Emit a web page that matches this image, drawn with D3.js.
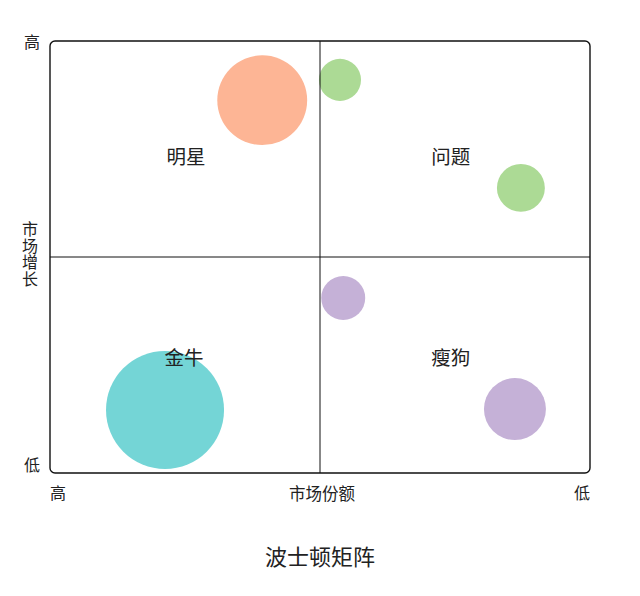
<!DOCTYPE html>
<html>
<head>
<meta charset="utf-8">
<script src="https://cdn.jsdelivr.net/npm/d3@7"></script>
<style>
  body { margin: 0; background: #fff; }
  svg text { font-family: "Noto Sans CJK SC", "Noto Sans", sans-serif; fill: #222; }
</style>
</head>
<body>
<div id="chart"></div>
<script>
// bubbles: market share (0 = high, 100 = low), market growth (0..100), size
var names = ["明星", "问题A", "问题B", "瘦狗A", "瘦狗B", "金牛"];
var share = [39.3, 53.7, 87.2, 54.3, 86.1, 21.3];
var growth = [86.3, 91.0, 66.0, 40.5, 14.8, 14.6];
var sizes = [58, 12.7, 16.5, 13.9, 27.6, 100];
var colors = ["#fdb595", "#acda95", "#acda95", "#c5b1d7", "#c5b1d7", "#74d5d6"];

var quadNames = ["明星", "问题", "金牛", "瘦狗"];
var quadShare = [25.2, 74.2, 24.8, 74.2];
var quadGrowth = [73.6, 73.6, 27.0, 27.0];

var yTicks = ["低", "高"];
var xTicks = ["高", "低"];
var xTitle = "市场份额";
var yTitle = "市场增长";
var title = "波士顿矩阵";

var W = 640, H = 596;
var margin = {top: 41, right: 50, bottom: 123, left: 50};

var svg = d3.select("#chart").append("svg")
  .attr("width", W)
  .attr("height", H);

var x = d3.scaleLinear().domain([0, 100]).range([margin.left, W - margin.right]);
var y = d3.scaleLinear().domain([0, 100]).range([H - margin.bottom, margin.top]);
var r = d3.scaleSqrt().domain([0, 100]).range([0, 59]);

//bubbles
svg.selectAll("circle.bubble")
  .data(d3.range(names.length))
  .enter().append("circle")
  .attr("class", "bubble")
  .attr("cx", function(i) { return x(share[i]); })
  .attr("cy", function(i) { return y(growth[i]); })
  .attr("r", function(i) { return r(sizes[i]); })
  .style("fill", function(i) { return colors[i]; });

//frame
svg.append("rect")
  .attr("x", x(0))
  .attr("y", y(100))
  .attr("width", x(100) - x(0))
  .attr("height", y(0) - y(100))
  .attr("rx", 5)
  .style("fill", "none")
  .style("stroke", "#111")
  .style("stroke-width", 1.4);

//quadrant dividers
svg.append("line")
  .attr("x1", x(50)).attr("x2", x(50))
  .attr("y1", y(100)).attr("y2", y(0))
  .style("stroke", "#111").style("stroke-width", 1);
svg.append("line")
  .attr("x1", x(0)).attr("x2", x(100))
  .attr("y1", y(50)).attr("y2", y(50))
  .style("stroke", "#111").style("stroke-width", 1);

//quadrant labels
svg.selectAll("text.quad")
  .data(d3.range(quadNames.length))
  .enter().append("text")
  .attr("class", "quad")
  .attr("x", function(i) { return x(quadShare[i]); })
  .attr("y", function(i) { return y(quadGrowth[i]); })
  .attr("text-anchor", "middle")
  .attr("dominant-baseline", "central")
  .style("font-size", "19.5px")
  .text(function(i) { return quadNames[i]; });

//y axis: 低 at bottom, 高 at top
svg.selectAll("text.ytick")
  .data(yTicks)
  .enter().append("text")
  .attr("class", "ytick")
  .attr("x", 32)
  .attr("y", function(d, i) { return i === 0 ? y(0) - 9 : y(100) + 0; })
  .attr("text-anchor", "middle")
  .attr("dominant-baseline", "central")
  .style("font-size", "16px")
  .text(function(d) { return d; });

//vertical axis title, one glyph per line
svg.append("text")
  .attr("x", 30)
  .attr("y", y(50) - 36)
  .attr("text-anchor", "start")
  .style("writing-mode", "vertical-rl")
  .style("text-orientation", "upright")
  .style("letter-spacing", "0.5px")
  .style("font-size", "16px")
  .text(yTitle);

//x axis: 高 at left, 低 at right
svg.selectAll("text.xtick")
  .data(xTicks)
  .enter().append("text")
  .attr("class", "xtick")
  .attr("x", function(d, i) { return i === 0 ? x(0) : x(100); })
  .attr("y", y(0) + 19)
  .attr("text-anchor", function(d, i) { return i === 0 ? "start" : "end"; })
  .attr("dominant-baseline", "central")
  .style("font-size", "16px")
  .text(function(d) { return d; });

svg.append("text")
  .attr("x", x(50) + 2)
  .attr("y", y(0) + 20)
  .attr("text-anchor", "middle")
  .attr("dominant-baseline", "central")
  .style("font-size", "16.5px")
  .text(xTitle);

//title
svg.append("text")
  .attr("x", x(50))
  .attr("y", 555)
  .attr("text-anchor", "middle")
  .attr("dominant-baseline", "central")
  .style("font-size", "22px")
  .text(title);
</script>
</body>
</html>
